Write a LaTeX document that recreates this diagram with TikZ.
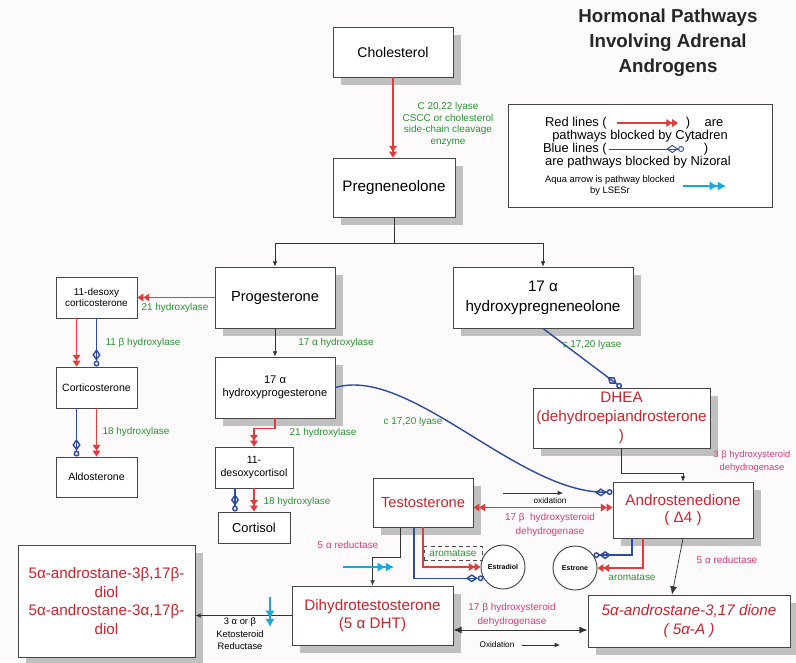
\documentclass[tikz,border=0pt]{standalone}
\usepackage{fontspec}
\setmainfont{Liberation Sans}
\usepackage{xcolor}
\usepackage{tikz}
\usetikzlibrary{calc}
\usetikzlibrary{arrows.meta}
\usetikzlibrary{shadows}
\definecolor{paper}{RGB}{253,250,252}
\definecolor{boxline}{RGB}{70,70,70}
\definecolor{shade}{RGB}{192,192,192}
\definecolor{hormred}{RGB}{205,35,45}
\definecolor{linered}{RGB}{225,60,60}
\definecolor{lineblue}{RGB}{45,75,160}
\definecolor{aqua}{RGB}{20,170,220}
\definecolor{enzgreen}{RGB}{40,150,50}
\definecolor{enzpink}{RGB}{215,60,120}
\tikzset{>=latex}
\tikzstyle{box} = [rectangle, draw=boxline, line width=0.8pt, fill=white, align=center, inner sep=1pt]
\tikzstyle{shbox} = [box, drop shadow={shadow xshift=0.24cm, shadow yshift=-0.24cm, fill=shade, opacity=1}]
\tikzstyle{bigtxt} = [font=\fontsize{12}{15}\selectfont]
\tikzstyle{smalltxt} = [font=\fontsize{9}{11}\selectfont]
\tikzstyle{redtxt} = [text=hormred, font=\fontsize{13}{16}\selectfont]
\tikzstyle{enzyme} = [draw=none, align=center, text=enzgreen, inner sep=0pt, font=\fontsize{8.5}{9.8}\selectfont]
\tikzstyle{enzpinklbl} = [enzyme, text=enzpink, font=\fontsize{8.5}{12}\selectfont]
\tikzstyle{notetxt} = [draw=none, align=center, inner sep=0pt, font=\fontsize{7}{9}\selectfont]
\tikzstyle{legtxt} = [draw=none, inner sep=0pt, font=\fontsize{11}{12}\selectfont]
\tikzstyle{ring} = [circle, draw=boxline, line width=0.8pt, fill=white, minimum size=1.32cm, inner sep=0pt, font=\fontsize{6}{7}\selectfont\bfseries]
\tikzstyle{redpath} = [draw=linered, line width=1pt, -{Triangle[length=5pt,width=6.5pt]Triangle[length=5pt,width=6.5pt]}]
\tikzstyle{redboth} = [draw=linered, line width=1pt, {Triangle[length=5pt,width=6.5pt]Triangle[length=5pt,width=6.5pt]}-{Triangle[length=5pt,width=6.5pt]Triangle[length=5pt,width=6.5pt]}]
\tikzstyle{bluepath} = [draw=lineblue, line width=1.2pt, -{Diamond[open,length=10pt,width=7pt]Circle[open,length=5pt]}]
\tikzstyle{aquapath} = [draw=aqua, line width=2.2pt, -{Latex[length=7pt,width=8pt]Latex[length=7pt,width=8pt]}]
\tikzstyle{blackpath} = [draw=black!80, line width=0.6pt, -{Latex[length=4.5pt,width=4pt]}]
\tikzstyle{blackboth} = [draw=black!80, line width=0.8pt, {Latex[length=7pt,width=6pt]}-{Latex[length=7pt,width=6pt]}]

\begin{document}
\begin{tikzpicture}[x=0.03cm, y=-0.03cm]
\fill [paper] (0,0) rectangle (796,662);
\useasboundingbox (0,0) rectangle (796,662);

\node [align=center, font=\fontsize{16}{21.3}\selectfont\bfseries, text=black!85] (title) at (668,43) {Hormonal Pathways\\Involving Adrenal\\Androgens};

% legend
\node [box, minimum width=7.92cm, minimum height=3.09cm] (legend) at (640,155.5) {};
\node [legtxt, anchor=east] (redlines) at (607,123) {Red lines (};
\coordinate (redA) at (617,123);
\coordinate (redB) at (678,123);
\draw [redpath] (redA) -- (redB);
\node [legtxt] (redclose) at (688,123) {)};
\node [legtxt] (redare) at (714,123) {are};
\node [legtxt] (redwho) at (640,136) {pathways blocked by Cytadren};
\node [legtxt, anchor=east] (bluelines) at (607,149) {Blue lines (};
\coordinate (blueA) at (609,149);
\coordinate (blueB) at (684,149);
\draw [bluepath, line width=0.8pt] (blueA) -- (blueB);
\node [legtxt] (blueclose) at (706,149) {)};
\node [legtxt] (bluewho) at (638,162) {are pathways blocked by Nizoral};
\node [notetxt, font=\fontsize{8}{9.5}\selectfont] (aquawho) at (610,185.5) {Aqua arrow is pathway blocked\\by LSESr};
\coordinate (aquaA) at (683,186);
\coordinate (aquaB) at (726,186);
\draw [aquapath] (aquaA) -- (aquaB);

% hormones
\node [shbox, bigtxt, minimum width=3.6cm, minimum height=1.5cm] (chol) at (393,52) {Cholesterol};
\node [shbox, font=\fontsize{13}{16}\selectfont, minimum width=3.66cm, minimum height=1.77cm] (preg) at (394,187.5) {Pregneneolone};
\node [shbox, font=\fontsize{12.5}{15}\selectfont, minimum width=3.6cm, minimum height=1.83cm] (prog) at (275,297.5) {Progesterone};
\node [shbox, font=\fontsize{13}{17}\selectfont, minimum width=5.4cm, minimum height=1.83cm] (ohpreg) at (543,297.5) {17 α\\hydroxypregneneolone};
\node [box, font=\fontsize{8.5}{9.5}\selectfont, minimum width=2.43cm, minimum height=1.23cm] (docs) at (96.5,297.5) {11-desoxy\\corticosterone};
\node [box, smalltxt, minimum width=2.43cm, minimum height=1.23cm] (cort) at (96.5,387.5) {Corticosterone};
\node [box, smalltxt, minimum width=2.43cm, minimum height=1.2cm] (aldo) at (96.5,477) {Aldosterone};
\node [shbox, font=\fontsize{9.5}{11}\selectfont, minimum width=3.6cm, minimum height=1.83cm] (ohprog) at (275,387.5) {17 α\\hydroxyprogesterone};
\node [box, smalltxt, minimum width=2.34cm, minimum height=1.23cm] (doc) at (254,467.5) {11-\\desoxycortisol};
\node [box, font=\fontsize{11}{13}\selectfont, minimum width=2.16cm, minimum height=0.93cm] (cortisol) at (254,527.5) {Cortisol};
\node [shbox, redtxt, minimum width=5.31cm, minimum height=1.8cm] (dhea) at (621.5,418) {DHEA\\(dehydroepiandrosterone\\)};
\node [shbox, redtxt, font=\fontsize{12.5}{15}\selectfont, minimum width=3cm, minimum height=1.47cm] (testo) at (423,502.5) {Testosterone};
\node [shbox, redtxt, font=\fontsize{13}{15}\selectfont, minimum width=4.2cm, minimum height=1.68cm] (andro) at (683,510) {Androstenedione\\( Δ4 )};
\node [shbox, redtxt, minimum width=4.83cm, minimum height=1.77cm] (dht) at (372.5,615.5) {Dihydrotestosterone\\(5 α DHT)};
\node [shbox, redtxt, minimum width=5.31cm, minimum height=3.36cm] (adiol) at (106.5,601) {5α-androstane-3β,17β-\\diol\\5α-androstane-3α,17β-\\diol};
\node [shbox, redtxt, font=\fontsize{13}{16}\selectfont\itshape, minimum width=6.06cm, minimum height=1.56cm] (adione) at (689,621) {5α-androstane-3,17 dione\\( 5α-A )};
\node [ring] (estradiol) at (503,567) {Estradiol};
\node [ring] (estrone) at (575,568) {Estrone};

% pathways
\draw [redpath] (chol.south) -- (chol.south |- preg.north);
\draw [blackpath] (preg.south) -- ++(0,26) -| (prog.north);
\draw [blackpath] (preg.south) -- ++(0,26) -| (ohpreg.north);
\draw [redpath] (prog.west) -- (docs.east);
\draw [redpath] ([xshift=-0.6cm]docs.south) -- ([xshift=-0.6cm]cort.north);
\draw [bluepath] (docs.south) -- (cort.north);
\draw [bluepath] ([xshift=-0.6cm]cort.south) -- ([xshift=-0.6cm]aldo.north);
\draw [redpath] (cort.south) -- (aldo.north);
\draw [blackpath] (prog.south) -- (ohprog.north);
\draw [redpath] (ohprog.south) -- ++(0,10) -| (doc.north);
\draw [bluepath] ([xshift=-0.57cm]doc.south) -- ([xshift=-0.57cm]cortisol.north);
\draw [redpath] (doc.south) -- (cortisol.north);
\draw [bluepath] (ohprog.east) .. controls +(75,-22) and +(-93,3) .. ([yshift=0.54cm]andro.west);
\draw [bluepath] (ohpreg.south) -- (dhea.north);
\draw [blackpath] (dhea.south) -- ++(0,25) -| (andro.north);
\coordinate (testoR) at ([yshift=-0.15cm]testo.east);
\draw [redboth] (testoR) -- (testoR -| andro.west);
\coordinate (oxA) at (503,493);
\coordinate (oxB) at (563,493);
\draw [blackpath] (oxA) -- (oxB);
\coordinate (testoL) at ([xshift=-0.69cm]testo.south);
\draw [blackpath] (testoL) -- ++(0,30) -| (dht.north);
\coordinate (testoB) at ([xshift=-0.27cm]testo.south);
\draw [bluepath] (testoB) |- (estradiol.210);
\draw [redpath] (testo.south) |- (estradiol.west);
\coordinate (androB) at ([xshift=-1.53cm]andro.south);
\draw [bluepath] (androB) |- (estrone.35);
\coordinate (androR) at ([xshift=-1.2cm]andro.south);
\draw [redpath] (androR) |- (estrone.east);
\draw [blackpath, -{Latex[length=7pt,width=6pt]}] (andro.south) -- ([xshift=-0.51cm]adione.north);
\coordinate (dhtR) at ([yshift=-0.435cm]dht.east);
\draw [blackboth] (dhtR) -- (dhtR -| adione.west);
\draw [blackpath] (dht.west) -- (dht.west -| adiol.east);
\coordinate (oxC) at (522,645);
\coordinate (oxD) at (560,645);
\draw [blackpath] (oxC) -- (oxD);
\coordinate (lsA) at (343,567);
\coordinate (lsB) at (394,567);
\draw [aquapath] (lsA) -- (lsB);
\coordinate (lsC) at (270,597);
\coordinate (lsD) at (270,627);
\draw [aquapath] (lsC) -- (lsD);

% enzymes
\node [enzyme] (cscc) at (448,124.5) {C 20,22 lyase\\CSCC or cholesterol\\side-chain cleavage\\enzyme};
\node [enzyme] (hyd21a) at (175,308) {21 hydroxylase};
\node [enzyme] (hyd11) at (143,343) {11 β hydroxylase};
\node [enzyme] (hyd18a) at (136,432) {18 hydroxylase};
\node [enzyme] (hyd17) at (336,343) {17 α hydroxylase};
\node [enzyme] (hyd21b) at (323,433) {21 hydroxylase};
\node [enzyme] (hyd18b) at (297,502) {18 hydroxylase};
\node [enzyme] (lyaseA) at (413,422) {c 17,20 lyase};
\node [enzyme] (lyaseB) at (592,345) {c 17,20 lyase};
\node [enzyme, draw=black!70, dashed, minimum width=1.74cm, minimum height=0.42cm] (aromA) at (453,553) {aromatase};
\node [enzyme] (aromB) at (632,577) {aromatase};
\node [enzpinklbl, font=\fontsize{8}{11}\selectfont] (hsd3) at (752,462) {3 β hydroxysteroid\\dehydrogenase};
\node [enzpinklbl] (hsd17a) at (550,525) {17 β \ hydroxysteroid\\dehydrogenase};
\node [enzpinklbl] (hsd17b) at (512,615) {17 β hydroxysteroid\\dehydrogenase};
\node [enzpinklbl] (redA5) at (348,545) {5 α reductase};
\node [enzpinklbl] (redB5) at (727,560) {5 α reductase};
\node [notetxt] (oxtop) at (550,501) {oxidation};
\node [notetxt] (oxbot) at (497,645) {Oxidation};
\node [notetxt, font=\fontsize{8}{10.7}\selectfont] (keto) at (240,634) {3 α or β\\Ketosteroid\\Reductase};
\end{tikzpicture}
\end{document}
